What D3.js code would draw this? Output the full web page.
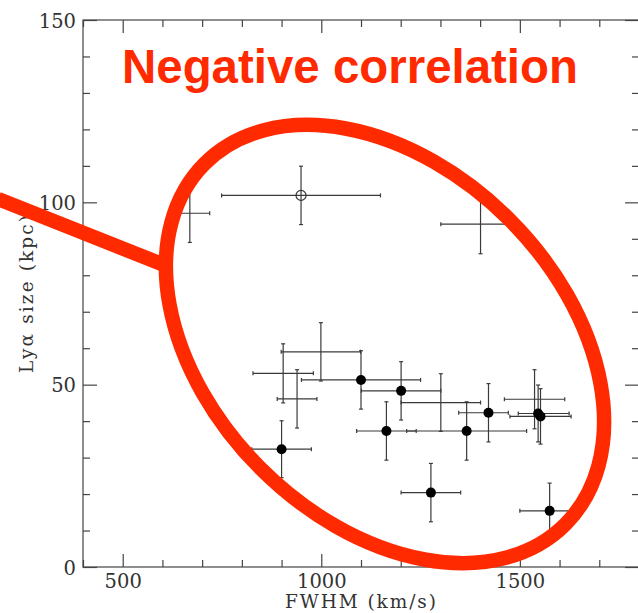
<!DOCTYPE html>
<html><head><meta charset="utf-8">
<script src="https://cdn.jsdelivr.net/npm/d3@7"></script>
<style>html,body{margin:0;padding:0;background:#fff;} svg{display:block;}</style>
</head><body>
<svg id="chart" width="638" height="613"></svg>
<script>
// ---- data ----
// filled circles
const detFwhm   = [900, 1100, 1201, 1164, 1366, 1421, 1546, 1552, 1276, 1575];
const detSize   = [32.3, 51.3, 48.3, 37.3, 37.3, 42.3, 42.1, 41.3, 20.4, 15.4];
const detXErrLo = [75, 150, 100, 75, 151, 75, 50, 77, 75, 75];
const detXErrHi = [75, 150, 100, 75, 151, 50, 78, 77, 75, 75];
const detYErr   = [7.8, 8, 8, 8, 8, 8, 7.8, 7.6, 8, 7.6];
// error crosses without a marker
const crossFwhm = [904, 999, 939, 1301, 1537, 669, 1401];
const crossSize = [53.1, 59.0, 46.1, 45.1, 46.0, 97.0, 94.0];
const crossXErr = [76, 100, 50, 100, 76, 50, 100];
const crossYErr = [8.1, 8, 8, 7.9, 8.1, 8, 8.1];
// open circle
const openFwhm = [949];
const openSize = [101.9];
const openXErr = [200];
const openYErr = [8];
// axes
const xMajorTicks = [500, 1000, 1500];
const xMinorTicks = [400, 600, 700, 800, 900, 1100, 1200, 1300, 1400, 1600, 1700, 1800];
const yMajorTicks = [0, 50, 100, 150];
const yMinorTicks = [10, 20, 30, 40, 60, 70, 80, 90, 110, 120, 130, 140];
const xTitle = "FWHM (km/s)";
const yTitle = "Ly\u03B1 size (kpc)";
const annotation = "Negative correlation";

// ---- drawing ----
const L = 83, R = 639, T = 20, B = 567;
const x = d3.scaleLinear().domain([400, 1800]).range([L, R]);
const y = d3.scaleLinear().domain([0, 150]).range([B, T]);
const svg = d3.select('#chart');
const axisColor = '#444';
const red = '#ff2a00';
const serif = "'DejaVu Serif', serif";

function styleAxis(g) {
  g.select('.domain').remove();
  g.selectAll('line').attr('stroke', axisColor).attr('stroke-width', 1.2);
}

// frame
svg.append('rect').attr('x', L).attr('y', T).attr('width', R - L).attr('height', B - T)
  .attr('fill', 'none').attr('stroke', axisColor).attr('stroke-width', 1.2);

// bottom
svg.append('g').attr('transform', `translate(0,${B})`)
  .call(d3.axisBottom(x).tickValues(xMinorTicks).tickSize(-7).tickSizeOuter(0).tickFormat(''))
  .call(styleAxis);
const bx = svg.append('g').attr('transform', `translate(0,${B})`)
  .call(d3.axisBottom(x).tickValues(xMajorTicks).tickSize(-13).tickSizeOuter(0).tickFormat(d3.format('d')))
  .call(styleAxis);
bx.selectAll('text').attr('y', 21).attr('dy', null)
  .attr('font-family', serif).attr('font-size', 19.5).attr('fill', '#333');
// top
svg.append('g').attr('transform', `translate(0,${T})`)
  .call(d3.axisTop(x).tickValues(xMinorTicks).tickSize(-7).tickSizeOuter(0).tickFormat(''))
  .call(styleAxis);
svg.append('g').attr('transform', `translate(0,${T})`)
  .call(d3.axisTop(x).tickValues(xMajorTicks).tickSize(-13).tickSizeOuter(0).tickFormat(''))
  .call(styleAxis);
// left
svg.append('g').attr('transform', `translate(${L},0)`)
  .call(d3.axisLeft(y).tickValues(yMinorTicks).tickSize(-7).tickSizeOuter(0).tickFormat(''))
  .call(styleAxis);
const ly = svg.append('g').attr('transform', `translate(${L},0)`)
  .call(d3.axisLeft(y).tickValues(yMajorTicks).tickSize(-14).tickSizeOuter(0).tickFormat(d3.format('d')))
  .call(styleAxis);
ly.selectAll('text').attr('x', -7).attr('dy', '0.36em')
  .attr('font-family', serif).attr('font-size', 19.5).attr('fill', '#333');
// right
svg.append('g').attr('transform', `translate(${R},0)`)
  .call(d3.axisRight(y).tickValues(yMinorTicks).tickSize(-7).tickSizeOuter(0).tickFormat(''))
  .call(styleAxis);
svg.append('g').attr('transform', `translate(${R},0)`)
  .call(d3.axisRight(y).tickValues(yMajorTicks).tickSize(-14).tickSizeOuter(0).tickFormat(''))
  .call(styleAxis);

// axis titles
svg.append('text').attr('x', 360.5).attr('y', 608).attr('text-anchor', 'middle')
  .attr('font-family', serif).attr('font-size', 18.5).attr('fill', '#333')
  .attr('textLength', 151).attr('lengthAdjust', 'spacing').text(xTitle);
svg.append('text').attr('transform', 'translate(33,294) rotate(-90)').attr('text-anchor', 'middle')
  .attr('font-family', serif).attr('font-size', 18.5).attr('fill', '#333')
  .attr('textLength', 158).attr('lengthAdjust', 'spacing').text(yTitle);

// error bars
const ebColor = '#3a3a3a', cap = 2;
function errorBars(g, xs, ys, xlo, xhi, yerr) {
  xs.forEach((xv, i) => {
    const cx = x(xv), cy = y(ys[i]);
    const x0 = x(xv - xlo[i]), x1 = x(xv + xhi[i]);
    const y0 = y(ys[i] - yerr[i]), y1 = y(ys[i] + yerr[i]);
    const segs = [
      [x0, cy, x1, cy], [cx, y0, cx, y1],
      [x0, cy - cap, x0, cy + cap], [x1, cy - cap, x1, cy + cap],
      [cx - cap, y0, cx + cap, y0], [cx - cap, y1, cx + cap, y1]
    ];
    segs.forEach(s => g.append('line').attr('x1', s[0]).attr('y1', s[1]).attr('x2', s[2]).attr('y2', s[3])
      .attr('stroke', ebColor).attr('stroke-width', 1.2));
  });
}
const gData = svg.append('g');
errorBars(gData, crossFwhm, crossSize, crossXErr, crossXErr, crossYErr);
errorBars(gData, openFwhm, openSize, openXErr, openXErr, openYErr);
errorBars(gData, detFwhm, detSize, detXErrLo, detXErrHi, detYErr);
gData.selectAll('circle.det').data(detFwhm).enter().append('circle').attr('class', 'det')
  .attr('cx', d => x(d)).attr('cy', (d, i) => y(detSize[i])).attr('r', 5).attr('fill', '#000');
gData.selectAll('circle.open').data(openFwhm).enter().append('circle').attr('class', 'open')
  .attr('cx', d => x(d)).attr('cy', (d, i) => y(openSize[i])).attr('r', 5)
  .attr('fill', 'none').attr('stroke', '#333').attr('stroke-width', 1.2);

// red annotation
svg.append('line').attr('x1', -2).attr('y1', 199).attr('x2', 168).attr('y2', 266.5)
  .attr('stroke', red).attr('stroke-width', 14.5);
svg.append('ellipse').attr('cx', 0).attr('cy', 0).attr('rx', 255).attr('ry', 176)
  .attr('transform', 'translate(385,344) rotate(45)')
  .attr('fill', 'none').attr('stroke', red).attr('stroke-width', 14.5);
svg.append('text').attr('x', 122).attr('y', 83)
  .attr('font-family', "'Liberation Sans', Arial, sans-serif").attr('font-weight', 'bold')
  .attr('font-size', 47.5).attr('fill', red)
  .attr('textLength', 456).attr('lengthAdjust', 'spacingAndGlyphs').text(annotation);
</script>
</body></html>
